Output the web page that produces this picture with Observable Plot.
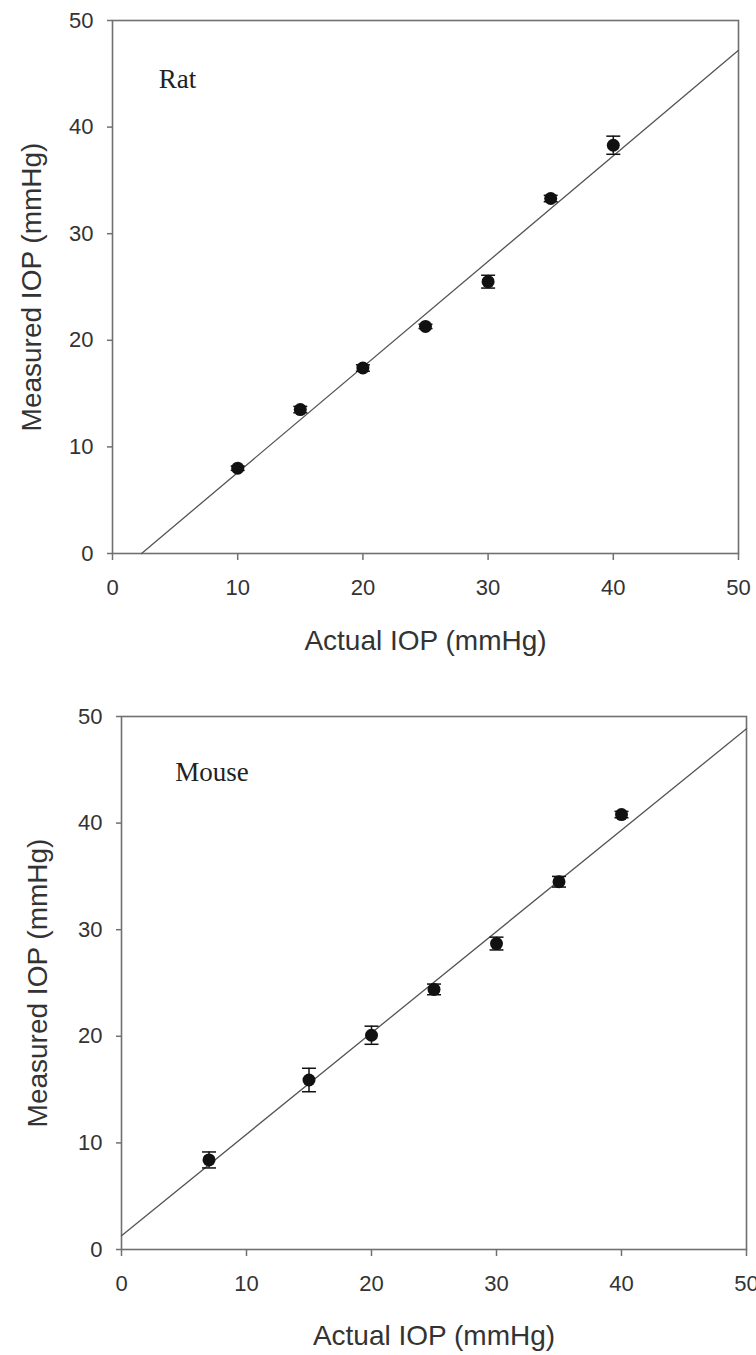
<!DOCTYPE html>
<html><head><meta charset="utf-8">
<script src="https://cdn.jsdelivr.net/npm/d3@7"></script>
<script src="https://cdn.jsdelivr.net/npm/@observablehq/plot@0.6"></script>
<style>
body{margin:0;background:#fff;width:756px;overflow:hidden}
svg{display:block;overflow:visible}
</style>
</head><body><div id="chart"></div>
<script>
// Rat panel
const ratActual = [10, 15, 20, 25, 30, 35, 40];
const ratMeasured = [8.0, 13.5, 17.4, 21.3, 25.5, 33.3, 38.3];
const ratError = [0.2, 0.3, 0.3, 0.2, 0.6, 0.3, 0.85];
const ratFit = {slope: 0.99, intercept: -2.3};

// Mouse panel
const mouseActual = [7, 15, 20, 25, 30, 35, 40];
const mouseMeasured = [8.4, 15.9, 20.1, 24.4, 28.7, 34.5, 40.8];
const mouseError = [0.75, 1.1, 0.85, 0.5, 0.6, 0.5, 0.3];
const mouseFit = {slope: 0.951, intercept: 1.3};

const axisDomain = [0, 50];
const tickValues = [0, 10, 20, 30, 40, 50];
const xTitle = "Actual IOP (mmHg)";
const yTitle = "Measured IOP (mmHg)";

const capSymbol = {
  draw(ctx, size) {
    const r = Math.sqrt(size / Math.PI);
    ctx.moveTo(-r, 0);
    ctx.lineTo(r, 0);
  }
};

function panel(cfg) {
  const data = cfg.xs.map((x, i) => ({x, y: cfg.ys[i], e: cfg.errs[i]}));
  const x0 = Math.max(axisDomain[0], -cfg.fit.intercept / cfg.fit.slope);
  const fitLine = [x0, axisDomain[1]].map(x => ({x, y: cfg.fit.slope * x + cfg.fit.intercept}));
  return Plot.plot({
    width: 756,
    height: cfg.height,
    marginLeft: cfg.marginLeft,
    marginRight: cfg.marginRight,
    marginTop: cfg.marginTop,
    marginBottom: cfg.marginBottom,
    style: {fontFamily: "'Liberation Sans', Arial, sans-serif", fontSize: "22px", background: "#fff", color: "#333"},
    x: {domain: axisDomain},
    y: {domain: axisDomain},
    marks: [
      Plot.frame({stroke: "#707070", strokeWidth: 1.6}),
      Plot.axisX({ticks: tickValues, tickSize: 7, tickPadding: 19, fontSize: 22, stroke: "#707070", strokeWidth: 1.5, fill: "#333", label: null}),
      Plot.axisY({ticks: tickValues, tickSize: 5, tickPadding: 14, fontSize: 22, stroke: "#707070", strokeWidth: 1.5, fill: "#333", label: null}),
      Plot.line(fitLine, {x: "x", y: "y", stroke: "#555", strokeWidth: 1.3}),
      Plot.ruleX(data, {x: "x", y1: d => d.y - d.e, y2: d => d.y + d.e, stroke: "#111", strokeWidth: 1.5}),
      Plot.dot(data, {x: "x", y: d => d.y + d.e, symbol: capSymbol, r: 7, stroke: "#111", strokeWidth: 1.5, fill: "none"}),
      Plot.dot(data, {x: "x", y: d => d.y - d.e, symbol: capSymbol, r: 7, stroke: "#111", strokeWidth: 1.5, fill: "none"}),
      Plot.dot(data, {x: "x", y: "y", r: 6.5, fill: "#111", stroke: "none"}),
      Plot.text([cfg.label], {x: cfg.labelX, y: cfg.labelY, text: d => d, textAnchor: "start", fontFamily: "'Liberation Serif', 'Times New Roman', serif", fontSize: 27, fill: "#222"}),
      Plot.text([xTitle], {frameAnchor: "bottom", text: d => d, textAnchor: "middle", lineAnchor: "middle", dy: cfg.xTitleOffset, fontSize: 28, fill: "#333"}),
      Plot.text([yTitle], {frameAnchor: "left", text: d => d, textAnchor: "middle", lineAnchor: "middle", rotate: -90, dx: cfg.yTitleOffset, fontSize: 28, fill: "#333"})
    ]
  });
}

const chart = document.getElementById("chart");
chart.append(panel({
  label: "Rat", xs: ratActual, ys: ratMeasured, errs: ratError, fit: ratFit,
  height: 680, marginLeft: 112, marginRight: 18, marginTop: 20, marginBottom: 127,
  labelX: 3.7, labelY: 44.5, yTitleOffset: -80, xTitleOffset: 88
}));
chart.append(panel({
  label: "Mouse", xs: mouseActual, ys: mouseMeasured, errs: mouseError, fit: mouseFit,
  height: 675, marginLeft: 121, marginRight: 10, marginTop: 36, marginBottom: 106,
  labelX: 4.3, labelY: 44.8, yTitleOffset: -83, xTitleOffset: 87
}));
</script>
</body></html>
